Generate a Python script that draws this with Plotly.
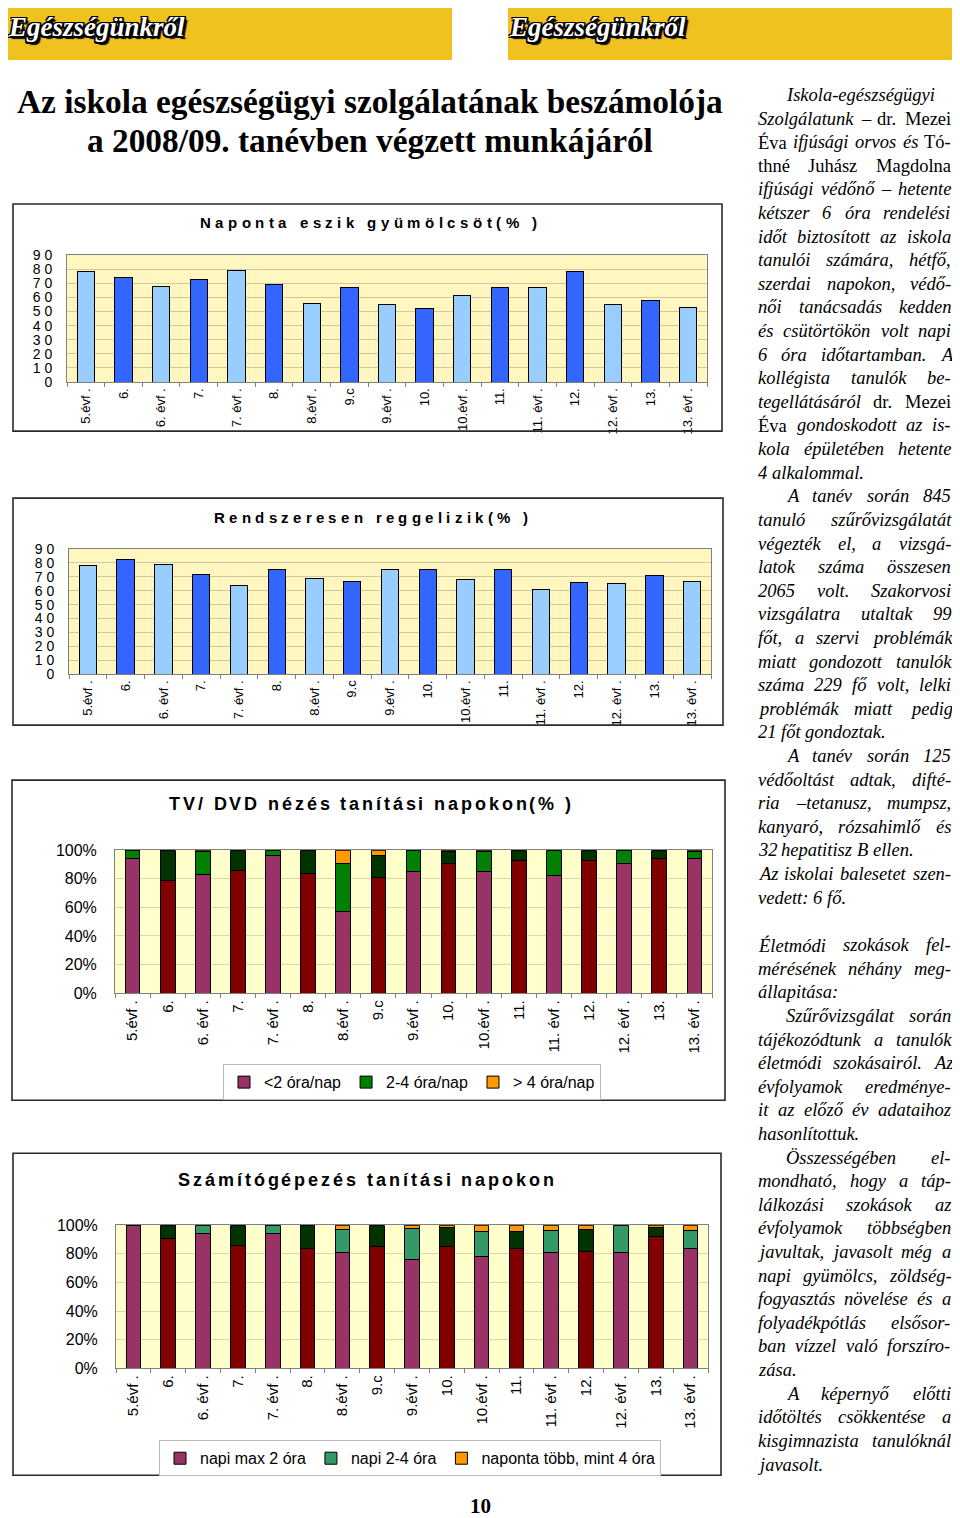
import os
import glob
import struct
import plotly.graph_objects as go

# ---------------- data ----------------
categories = ["5.évf .", "6.", "6. évf .", "7.", "7. évf .", "8.", "8.évf .", "9.c", "9.évf .",
              "10.", "10.évf .", "11.", "11. évf .", "12.", "12. évf .", "13.", "13. évf ."]

fruit_pct = [78, 74, 68, 73, 79, 69, 56, 67, 55, 52, 61, 67, 67, 78, 55, 58, 53]
breakfast_pct = [78, 82.5, 79, 72, 64, 75, 69, 67, 75, 75, 68, 75, 61, 66, 65, 71, 67]

tv_lt2 = [94, 78.5, 83, 86, 96.5, 83.5, 57, 81, 85, 91, 85, 92.5, 82, 93, 91, 94, 94]
tv_2_4 = [6, 21.5, 16, 14, 3.5, 16.5, 34, 15, 15, 8, 14, 7.5, 18, 7, 9, 6, 5]
tv_gt4 = [0, 0, 1, 0, 0, 0, 9, 4, 0, 1, 1, 0, 0, 0, 0, 0, 1]

pc_max2 = [100, 91, 94, 86, 94, 83.5, 81, 85, 76, 85, 78, 83.5, 81, 81.5, 81, 92, 83.5]
pc_2_4 = [0, 9, 6, 14, 6, 16.5, 16, 15, 22, 13.5, 17.5, 12, 15.5, 15.5, 19, 6.5, 13]
pc_gt4 = [0, 0, 0, 0, 0, 0, 3, 0, 2, 1.5, 4.5, 4.5, 3.5, 3, 0, 1.5, 3.5]

tv_series_names = ["<2 óra/nap", "2-4 óra/nap", "> 4 óra/nap"]
pc_series_names = ["napi max 2 óra", "napi 2-4 óra", "naponta több, mint 4 óra"]

ticks_10 = [0, 10, 20, 30, 40, 50, 60, 70, 80, 90]
ticks_10_text = ["0", "1 0", "2 0", "3 0", "4 0", "5 0", "6 0", "7 0", "8 0", "9 0"]
ticks_pct = [0, 20, 40, 60, 80, 100]
ticks_pct_text = ["0%", "20%", "40%", "60%", "80%", "100%"]

title_fruit = "Naponta eszik gyümölcsöt(% )"
title_breakfast = "Rendszeresen reggelizik(% )"
title_tv = "TV/ DVD nézés tanítási napokon(% )"
title_pc = "Számítógépezés tanítási napokon"

header_text = "Egészségünkről"
main_title_1 = "Az iskola egészségügyi szolgálatának beszámolója"
main_title_2 = "a 2008/09. tanévben végzett munkájáról"
page_number = "10"

text_block_1 = [
    ">Iskola-egészségügyi",
    "Szolgálatunk [– dr. Mezei]",
    "[Éva] ifjúsági orvos és [Tó-]",
    "[thné Juhász Magdolna]",
    "ifjúsági védőnő – hetente",
    "kétszer 6 óra rendelési",
    "időt biztosított az iskola",
    "tanulói számára, hétfő,",
    "szerdai napokon, védő-",
    "női tanácsadás kedden",
    "és csütörtökön volt napi",
    "6 óra időtartamban. A",
    "kollégista tanulók be-",
    "tegellátásáról [dr. Mezei]",
    "[Éva] gondoskodott az is-",
    "kola épületében hetente",
    "4 alkalommal.|",
    ">A tanév során 845",
    "tanuló szűrővizsgálatát",
    "végezték el, a vizsgá-",
    "latok száma összesen",
    "2065 volt. Szakorvosi",
    "vizsgálatra utaltak 99",
    "főt, a szervi problémák",
    "miatt gondozott tanulók",
    "száma 229 fő volt, lelki",
    "problémák miatt pedig",
    "21 főt gondoztak.|",
    ">A tanév során 125",
    "védőoltást adtak, difté-",
    "ria –tetanusz, mumpsz,",
    "kanyaró, rózsahimlő és",
    "32 hepatitisz B ellen.|",
    "Az iskolai balesetet szen-",
    "vedett: 6 fő.|",
]
text_block_2 = [
    "Életmódi szokások fel-",
    "mérésének néhány meg-",
    "állapitása:|",
    ">Szűrővizsgálat során",
    "tájékozódtunk a tanulók",
    "életmódi szokásairól. Az",
    "évfolyamok eredménye-",
    "it az előző év adataihoz",
    "hasonlítottuk.|",
    ">Összességében el-",
    "mondható, hogy a táp-",
    "lálkozási szokások az",
    "évfolyamok többségben",
    "javultak, javasolt még a",
    "napi gyümölcs, zöldség-",
    "fogyasztás növelése és a",
    "folyadékpótlás elsősor-",
    "ban vízzel való forszíro-",
    "zása.|",
    ">A képernyő előtti",
    "időtöltés csökkentése a",
    "kisgimnazista tanulóknál",
    "javasolt.|",
]

# ---------------- helpers ----------------
# page body keeps an 8px margin; the capture also showed a small vertical squeeze,
# so vertical page positions are pre-compensated.
OFF = 8
VS, VOFF = 0.9886, 8.1
FIG_W, FIG_H = 960 - 2 * OFF, 1520


def X(p):
    return (p - OFF) / FIG_W


def Y(p):
    fig_y = (p - VOFF) / VS - OFF
    return 1 - fig_y / FIG_H


def load_font_metrics(fname, fallback=0.5):
    path = None
    for root in ('/usr/share/fonts', '/usr/local/share/fonts',
                 os.path.expanduser('~/.fonts'), os.path.expanduser('~/.local/share/fonts')):
        hits = glob.glob(os.path.join(root, '**', fname), recursive=True)
        if hits:
            path = hits[0]
            break
    if path is None:
        return lambda ch: fallback
    try:
        data = open(path, 'rb').read()
        num_tables = struct.unpack('>H', data[4:6])[0]
        tables = {}
        for i in range(num_tables):
            tag, _cs, off, _ln = struct.unpack('>4sIII', data[12 + 16 * i: 28 + 16 * i])
            tables[tag.decode('latin-1')] = off
        head = tables['head']
        upem = struct.unpack('>H', data[head + 18:head + 20])[0]
        hhea = tables['hhea']
        n_hm = struct.unpack('>H', data[hhea + 34:hhea + 36])[0]
        hmtx = tables['hmtx']
        adv = struct.unpack('>' + 'Hh' * n_hm, data[hmtx: hmtx + 4 * n_hm])[0::2]
        cmap = tables['cmap']
        n_sub = struct.unpack('>H', data[cmap + 2:cmap + 4])[0]
        sub = None
        for i in range(n_sub):
            pid, eid, off = struct.unpack('>HHI', data[cmap + 4 + 8 * i: cmap + 12 + 8 * i])
            if pid == 3 and eid == 1:
                sub = cmap + off
        if sub is None or struct.unpack('>H', data[sub:sub + 2])[0] != 4:
            return lambda ch: fallback
        segx2 = struct.unpack('>H', data[sub + 6:sub + 8])[0]
        seg = segx2 // 2
        p = sub + 14
        ends = struct.unpack('>%dH' % seg, data[p:p + segx2]); p += segx2 + 2
        starts = struct.unpack('>%dH' % seg, data[p:p + segx2]); p += segx2
        deltas = struct.unpack('>%dh' % seg, data[p:p + segx2]); p += segx2
        ro_base = p
        ros = struct.unpack('>%dH' % seg, data[p:p + segx2])
        cache = {}

        def advance(ch):
            c = ord(ch)
            if c in cache:
                return cache[c]
            g = 0
            for i in range(seg):
                if ends[i] >= c:
                    if starts[i] <= c:
                        if ros[i] == 0:
                            g = (c + deltas[i]) & 0xFFFF
                        else:
                            addr = ro_base + 2 * i + ros[i] + 2 * (c - starts[i])
                            gg = struct.unpack('>H', data[addr:addr + 2])[0]
                            g = (gg + deltas[i]) & 0xFFFF if gg else 0
                    break
            a = adv[g] if g < n_hm else adv[-1]
            cache[c] = a / upem
            return cache[c]
        return advance
    except Exception:
        return lambda ch: fallback


serif_it = load_font_metrics('LiberationSerif-Italic.ttf', 0.42)
serif_rg = load_font_metrics('LiberationSerif-Regular.ttf', 0.45)
serif_bd = load_font_metrics('LiberationSerif-Bold.ttf', 0.48)
sans_bd = load_font_metrics('LiberationSans-Bold.ttf', 0.58)


def tw(s, metric, size):
    return sum(metric(c) for c in s) * size


annotations = []
shapes = []

# ---------------- page header ----------------
HEADER_YELLOW = "#EFC21F"
for x0, x1 in ((5, 452), (508, 955)):
    shapes.append(dict(type="rect", xref="paper", yref="paper", x0=X(x0), x1=X(x1), y0=Y(60), y1=Y(4),
                       fillcolor=HEADER_YELLOW, line=dict(width=0), layer="below"))
outline = ("-1.5px -1.5px 0 #000, 1.5px -1.5px 0 #000, -1.5px 1.5px 0 #000, 1.5px 1.5px 0 #000, "
           "0 -1.5px 0 #000, 0 1.5px 0 #000, -1.5px 0 0 #000, 1.5px 0 0 #000, 3px 3px 1px #000")
for hx in (8, 509):
    annotations.append(dict(text="<b><i>" + header_text + "</i></b>", x=X(hx), y=Y(27), xref="paper", yref="paper",
                            xanchor="left", yanchor="middle", showarrow=False, borderpad=0, borderwidth=0,
                            font=dict(family="Liberation Serif", size=27, color="white", shadow=outline)))

# ---------------- main title ----------------
title_size = 706 / tw(main_title_1, serif_bd, 1.0)
for txt, ty in ((main_title_1, 101), (main_title_2, 140)):
    annotations.append(dict(text="<b>" + txt + "</b>", x=X(370), y=Y(ty), xref="paper", yref="paper",
                            xanchor="center", yanchor="middle", showarrow=False,
                            font=dict(family="Liberation Serif", size=title_size, color="black")))

annotations.append(dict(text="<b>" + page_number + "</b>", x=X(480), y=Y(1506), xref="paper", yref="paper",
                        xanchor="center", yanchor="middle", showarrow=False,
                        font=dict(family="Liberation Serif", size=21, color="black")))

# ---------------- justified text column ----------------
COL_L, COL_R, INDENT, FS, LH = 758, 951, 28, 18.5, 23.6


def add_text_block(lines, y_start):
    for k, raw in enumerate(lines):
        y = y_start + k * LH
        indent = raw.startswith(">")
        last = raw.endswith("|")
        s = raw.lstrip(">").rstrip("|")
        words = []
        upright = False
        for tok in s.split(" "):
            if tok.startswith("["):
                upright = True
                tok = tok[1:]
            end_up = tok.endswith("]")
            if end_up:
                tok = tok[:-1]
            words.append((tok, not upright))
            if end_up:
                upright = False
        x0 = COL_L + (INDENT if indent else 0)
        widths = [tw(w, serif_it if it else serif_rg, FS) for w, it in words]
        if last or len(words) == 1:
            gap = tw(" ", serif_it, FS)
        else:
            gap = (COL_R - x0 - sum(widths)) / (len(words) - 1)
        x = x0
        for (w, it), wd in zip(words, widths):
            annotations.append(dict(text=("<i>" + w + "</i>") if it else w, x=X(x), y=Y(y),
                                    xref="paper", yref="paper", xanchor="left", yanchor="middle",
                                    showarrow=False, borderpad=0, borderwidth=0,
                                    font=dict(family="Liberation Serif", size=FS, color="black")))
            x += wd + gap


add_text_block(text_block_1, 95)
add_text_block(text_block_2, 945)


# ---------------- letter-spaced chart titles ----------------
def spaced_title(text, x0, x1, yc, size):
    advs = [sans_bd(c) * size for c in text]
    sp = (x1 - x0 - sum(advs)) / (len(text) - 1)
    x = x0
    for c, a in zip(text, advs):
        if c != " ":
            annotations.append(dict(text=c, x=X(x), y=Y(yc), xref="paper", yref="paper",
                                    xanchor="left", yanchor="middle", showarrow=False,
                                    borderpad=0, borderwidth=0,
                                    font=dict(family="Liberation Sans", size=size, color="black", weight="bold")))
        x += a + sp


spaced_title(title_fruit, 200, 537, 222, 15)
spaced_title(title_breakfast, 214, 528, 517, 15)
spaced_title(title_tv, 169, 571, 804, 18)
spaced_title(title_pc, 178, 554, 1180, 18)

# ---------------- chart frames ----------------
for x0, y0, x1, y1 in ((13, 204, 722, 431), (13, 498, 723, 725), (12, 780, 725, 1100), (13, 1153, 721, 1475)):
    shapes.append(dict(type="rect", xref="paper", yref="paper", x0=X(x0), x1=X(x1), y0=Y(y1), y1=Y(y0),
                       line=dict(color="#2A2A2A", width=1.6), fillcolor="rgba(0,0,0,0)"))

# ---------------- traces ----------------
LIGHT_BLUE, DARK_BLUE = "#99CCFF", "#3366FF"
blue_cols = [LIGHT_BLUE if i % 2 == 0 else DARK_BLUE for i in range(len(categories))]
purple_cols = ["#993366" if i % 2 == 0 else "#800000" for i in range(len(categories))]
green_cols = ["#008000" if i % 2 == 0 else "#003300" for i in range(len(categories))]
teal_cols = ["#339966" if i % 2 == 0 else "#003300" for i in range(len(categories))]
orange_cols = ["#FF9900"] * len(categories)
edge = dict(color="black", width=1)

fig = go.Figure()
fig.add_trace(go.Bar(x=categories, y=fruit_pct, width=0.46, marker=dict(color=blue_cols, line=edge),
                     xaxis="x", yaxis="y", showlegend=False))
fig.add_trace(go.Bar(x=categories, y=breakfast_pct, width=0.46, marker=dict(color=blue_cols, line=edge),
                     xaxis="x2", yaxis="y2", showlegend=False))
for vals, cols, name in zip((tv_lt2, tv_2_4, tv_gt4), (purple_cols, green_cols, orange_cols), tv_series_names):
    fig.add_trace(go.Bar(x=categories, y=vals, width=0.42, name=name, marker=dict(color=cols, line=edge),
                         xaxis="x3", yaxis="y3", legend="legend"))
for vals, cols, name in zip((pc_max2, pc_2_4, pc_gt4), (purple_cols, teal_cols, orange_cols), pc_series_names):
    fig.add_trace(go.Bar(x=categories, y=vals, width=0.42, name=name, marker=dict(color=cols, line=edge),
                         xaxis="x4", yaxis="y4", legend="legend2"))

# plot-area backgrounds
for ax, col in (("", "#FFF7BF"), ("2", "#FFF7BF"), ("3", "#FFFFCC"), ("4", "#FFFFCC")):
    shapes.append(dict(type="rect", xref="x%s domain" % ax, yref="y%s domain" % ax, x0=0, x1=1, y0=0, y1=1,
                       fillcolor=col, line=dict(width=0), layer="below"))

xdom = {1: (67, 707), 2: (69, 711), 3: (115, 712), 4: (116, 708)}
ydom = {1: (255, 382), 2: (549, 674), 3: (850, 993), 4: (1225, 1368)}


def xaxis_cfg(i, fs):
    return dict(domain=[X(xdom[i][0]), X(xdom[i][1])], anchor="y" if i == 1 else "y%d" % i,
                type="category", tickangle=-90, ticks="outside", tickson="boundaries", ticklen=4,
                tickcolor="#808080", showline=True, linecolor="#808080", mirror=True, showgrid=False,
                tickfont=dict(family="Liberation Sans Narrow, Liberation Sans, Arial", size=fs, color="black"),
                fixedrange=True)


def yaxis_cfg(i, rng, tv, tt, fs, grid, standoff):
    return dict(domain=[Y(ydom[i][1]), Y(ydom[i][0])], anchor="x" if i == 1 else "x%d" % i,
                range=rng, tickvals=tv, ticktext=tt, showgrid=True, gridcolor=grid, gridwidth=1,
                showline=True, linecolor="#808080", mirror=True, zeroline=False, ticks="",
                ticklabelstandoff=standoff,
                tickfont=dict(family="Liberation Sans", size=fs, color="black"), fixedrange=True)


fig.update_layout(
    width=FIG_W, height=FIG_H, margin=dict(l=0, r=0, t=0, b=0),
    paper_bgcolor="white", plot_bgcolor="rgba(0,0,0,0)",
    barmode="stack",
    xaxis=xaxis_cfg(1, 13), xaxis2=xaxis_cfg(2, 13), xaxis3=xaxis_cfg(3, 15), xaxis4=xaxis_cfg(4, 15),
    yaxis=yaxis_cfg(1, [0, 90], ticks_10, ticks_10_text, 14, "#CFCB9E", 11),
    yaxis2=yaxis_cfg(2, [0, 90], ticks_10, ticks_10_text, 14, "#CFCB9E", 11),
    yaxis3=yaxis_cfg(3, [0, 100], ticks_pct, ticks_pct_text, 16, "#DDD8AA", 14),
    yaxis4=yaxis_cfg(4, [0, 100], ticks_pct, ticks_pct_text, 16, "#DDD8AA", 14),
    legend=dict(orientation="h", x=X(412), y=Y(1082), xanchor="center", yanchor="middle",
                bgcolor="white", bordercolor="#BBBBBB", borderwidth=1, traceorder="normal",
                font=dict(family="Liberation Sans", size=16, color="black")),
    legend2=dict(orientation="h", x=X(410), y=Y(1458), xanchor="center", yanchor="middle",
                 bgcolor="white", bordercolor="#BBBBBB", borderwidth=1, traceorder="normal",
                 font=dict(family="Liberation Sans", size=16, color="black")),
    shapes=shapes,
    annotations=annotations,
    showlegend=True,
)

fig.write_html("out.html")
